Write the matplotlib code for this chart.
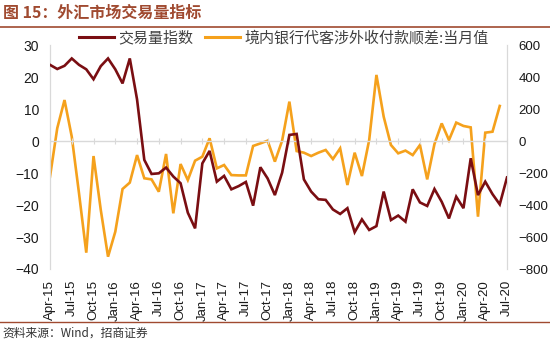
import matplotlib
matplotlib.use("Agg")
import matplotlib.pyplot as plt
from matplotlib.lines import Line2D

plt.rcParams['font.family'] = ['Liberation Sans', 'Noto Sans CJK SC', 'DejaVu Sans']

# Monthly data, Apr-2015 .. Jul-2020
volume_index = [23.8, 22.5, 23.5, 25.8, 23.8, 22.4, 19.3, 23.4, 25.8, 22.4, 18.0, 25.8,
                13.0, -5.9, -10.3, -10.1, -8.3, -11.1, -13.2, -22.4, -27.3, -7.0, -3.1, -12.7,
                -10.9, -15.1, -14.1, -12.8, -20.2, -8.2, -11.7, -16.9, -9.9, 1.9, 2.2, -12.0,
                -15.8, -18.2, -18.4, -21.4, -22.8, -21.0, -28.5, -24.5, -27.8, -26.6, -15.8, -24.7,
                -23.3, -25.2, -15.1, -19.2, -20.3, -15.0, -19.0, -24.2, -17.4, -21.0, -5.4, -16.9,
                -12.7, -16.6, -19.8, -11.4]
# Apr-2015 .. Jun-2020 (right axis)
surplus = [-223, 80, 256, 27, -327, -698, -94, -431, -723, -567, -300, -260,
           -88, -233, -240, -317, -81, -452, -144, -244, -123, -98, 17, -171,
           -150, -213, -215, -215, -31, -15, 2, -129, 2, 246, -63, -73,
           -94, -73, -56, -113, -46, -275, -73, -219, 6, 413, 152, -25,
           -77, -60, -88, -25, -240, -19, 110, 6, 115, 94, 85, -473,
           52, 58, 219]
tick_labels = ['Apr-15', 'Jul-15', 'Oct-15', 'Jan-16', 'Apr-16', 'Jul-16', 'Oct-16', 'Jan-17',
               'Apr-17', 'Jul-17', 'Oct-17', 'Jan-18', 'Apr-18', 'Jul-18', 'Oct-18', 'Jan-19',
               'Apr-19', 'Jul-19', 'Oct-19', 'Jan-20', 'Apr-20', 'Jul-20']
series_names = ['交易量指数', '境内银行代客涉外收付款顺差:当月值']

RED = '#7A0E12'
ORANGE = '#F5A11C'
GRID = '#D9D9D9'
TXT = '#1A1A1A'
BROWN = '#A04A30'

fig = plt.figure(figsize=(5.5, 3.43), dpi=100)
ax = fig.add_axes([50/550, 1-269/343, (507-50)/550, (269-45)/343])
ax2 = ax.twinx()

x1 = list(range(len(volume_index)))
x2 = list(range(len(surplus)))
ax.plot(x1, volume_index, color=RED, lw=1.9, zorder=3, solid_joinstyle='miter')
ax2.plot(x2, surplus, color=ORANGE, lw=1.9, zorder=2, solid_joinstyle='miter')
ax.set_zorder(ax2.get_zorder() + 1)
ax.patch.set_visible(False)

ax.set_xlim(0, 63)
ax.set_ylim(-40, 30)
ax2.set_ylim(-800, 600)
ax.set_yticks(range(-40, 31, 10))
ax2.set_yticks(range(-800, 601, 200))

ax.set_xticks(range(0, 64, 3))
ax.set_xticklabels(tick_labels, rotation=90, fontsize=9.5, color=TXT)
ax.tick_params(axis='x', length=0, pad=8)
ax.tick_params(axis='y', length=0, labelsize=10, colors=TXT, pad=8)
ax2.tick_params(axis='y', length=0, labelsize=9.5, colors=TXT, pad=8.5)

for a in (ax, ax2):
    for s in ('top', 'bottom'):
        a.spines[s].set_visible(False)
    a.spines['left'].set_color(GRID)
    a.spines['right'].set_color(GRID)

# zero line with small ticks
ax.axhline(0, color=GRID, lw=1.0, zorder=1)
sec = ax.secondary_xaxis(40/70)
sec.set_xticks(range(0, 64, 3))
sec.set_xticklabels([])
sec.tick_params(direction='inout', length=5, color=GRID, width=0.8)
sec.spines['bottom'].set_visible(False)
sec.spines['top'].set_visible(False)

# legend
handles = [Line2D([], [], color=RED, lw=2.2), Line2D([], [], color=ORANGE, lw=2.2)]
fig.legend(handles, series_names, loc='center', bbox_to_anchor=(284/550, 1-38/343),
           ncol=2, frameon=False, handlelength=2.3, handletextpad=0.3,
           columnspacing=0.8, labelcolor='#404040',
           prop={'family': ['Noto Sans CJK SC'], 'size': 10.8})

# title and footer
fig.text(3/550, 1-13/343, '图 15：外汇市场交易量指标', fontsize=11.5, fontweight='bold',
         color=BROWN, va='center', ha='left', family=['Noto Sans CJK SC'])
fig.add_artist(Line2D([0, 1], [1-27/343, 1-27/343], color=BROWN, lw=1.2))
fig.add_artist(Line2D([0, 1], [1-322/343, 1-322/343], color=BROWN, lw=1.0))
fig.text(2/550, 1-333/343, '资料来源：Wind，招商证券', fontsize=8.5, color='#333333',
         va='center', ha='left', family=['Noto Sans CJK SC'])

fig.savefig('out.png', dpi=100)
